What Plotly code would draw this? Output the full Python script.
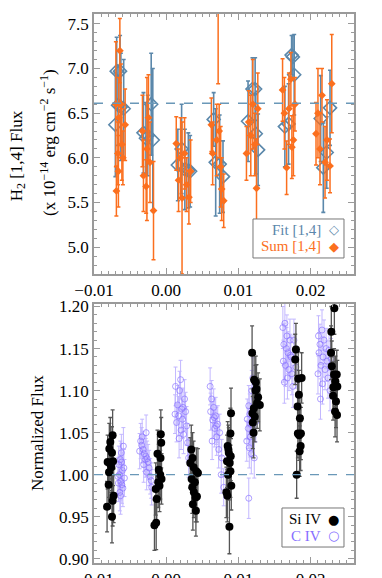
import plotly.graph_objects as go

# ---- top panel: H2 [1,4] flux (x 1e-14 erg cm^-2 s^-1) ----
fit_x = [-0.00704, -0.00686, -0.00639, -0.00667, -0.00589, -0.00628,
         -0.00315, -0.00256, -0.00208, -0.00186, -0.00281,
         0.00161, 0.00213, 0.00258, 0.00306, 0.00331,
         0.00657, 0.00685, 0.00740, 0.00786,
         0.01133, 0.01194, 0.01231, 0.01240, 0.01272,
         0.01643, 0.01694, 0.01736, 0.01754, 0.01772,
         0.02139, 0.02175, 0.02222, 0.02268]
fit_y = [6.37, 6.97, 6.97, 6.59, 6.55, 6.57,
         6.28, 6.25, 6.60, 6.20, 6.22,
         5.92, 6.10, 5.87, 5.86, 5.85,
         6.43, 5.95, 5.93, 5.79,
         6.41, 6.77, 6.77, 6.27, 6.09,
         6.35, 6.38, 7.15, 7.13, 6.93,
         6.44, 5.89, 6.06, 6.56]
fit_err = [0.58, 0.38, 0.40, 0.45, 0.55, 0.60,
           0.45, 0.45, 0.57, 0.80, 0.40,
           0.40, 0.50, 0.45, 0.42, 0.40,
           0.30, 0.60, 0.55, 0.40,
           0.45, 0.35, 0.35, 0.45, 0.40,
           0.45, 0.45, 0.22, 0.24, 0.45,
           0.48, 0.50, 0.40, 0.42]

sum_x = [-0.00690, -0.00669, -0.00656, -0.00642, -0.00628, -0.00614, -0.00600, -0.00569, -0.00662, -0.00697,
         -0.00315, -0.00278, -0.00329, -0.00246, -0.00225, -0.00176, -0.00267,
         0.00139, 0.00171, 0.00219, 0.00254, 0.00282, 0.00314, 0.00199, 0.00338,
         0.00625, 0.00643, 0.00719, 0.00699, 0.00754, 0.00796, 0.00768, 0.00733,
         0.01111, 0.01143, 0.01171, 0.01199, 0.01226, 0.01250, 0.01268,
         0.01611, 0.01636, 0.01667, 0.01699, 0.01726, 0.01740, 0.01761, 0.01782,
         0.02074, 0.02101, 0.02129, 0.02157, 0.02199, 0.02226, 0.02268, 0.02292]
sum_y = [5.63, 6.05, 6.45, 7.20, 6.60, 6.15, 6.00, 6.37, 5.85, 6.60,
         5.80, 5.68, 6.30, 6.45, 5.95, 5.41, 6.10,
         6.16, 5.75, 5.55, 6.05, 5.70, 5.56, 6.00, 5.85,
         6.37, 6.05, 7.75, 6.20, 5.90, 5.52, 5.65, 6.30,
         6.05, 6.40, 6.25, 6.60, 6.15, 5.66, 6.55,
         6.76, 6.50, 5.89, 6.55, 6.88, 6.12, 6.20, 6.60,
         6.27, 6.50, 6.10, 6.70, 5.95, 6.20, 5.91, 6.83]
sum_err = [0.28, 0.35, 0.45, 0.36, 0.45, 0.40, 0.30, 0.40, 0.40, 0.70,
           0.40, 0.30, 0.40, 0.48, 0.45, 0.55, 0.80,
           0.30, 0.35, 0.85, 0.40, 0.30, 0.30, 0.45, 0.35,
           0.30, 0.35, 0.92, 0.40, 0.45, 0.30, 0.35, 0.30,
           0.30, 0.35, 0.45, 0.50, 0.35, 0.55, 0.40,
           0.35, 0.40, 0.30, 0.40, 0.30, 0.35, 0.40, 0.30,
           0.35, 0.50, 0.40, 0.30, 0.40, 0.45, 0.30, 0.55]
h2_mean = 6.61

# ---- bottom panel: normalized flux ----
si_x = [-0.00819, -0.00797, -0.00811, -0.00788, -0.00774, -0.00742, -0.00751, -0.00778, -0.00760, -0.00736, -0.00728, -0.00742, -0.00751, -0.00792,
        -0.00163, -0.00139, -0.00131, -0.00103, -0.00121, -0.00079, -0.00075, -0.00069, -0.00093, -0.00065, -0.00083, -0.00111, -0.00145,
        0.00347, 0.00333, 0.00379, 0.00417, 0.00352, 0.00397, 0.00361, 0.00383, 0.00407, 0.00425, 0.00369, 0.00411, 0.00439, 0.00365,
        0.00897, 0.00861, 0.00842, 0.00879, 0.00893, 0.00866, 0.00889, 0.00856, 0.00901, 0.00833, 0.00846, 0.00875, 0.00851, 0.00889,
        0.01189, 0.01217, 0.01240, 0.01250, 0.01213, 0.01258, 0.01296, 0.01194, 0.01226, 0.01199, 0.01209, 0.01272, 0.01236,
        0.01796, 0.01786, 0.01828, 0.01875, 0.01837, 0.01819, 0.01851, 0.01823, 0.01865, 0.01841, 0.01861, 0.01847, 0.01806,
        0.02328, 0.02286, 0.02282, 0.02292, 0.02324, 0.02361, 0.02314, 0.02369, 0.02342, 0.02310, 0.02351, 0.02338, 0.02365]
si_y = [0.962, 0.988, 1.015, 1.031, 1.039, 1.047, 1.026, 1.013, 1.009, 1.016, 0.975, 0.969, 0.950, 1.003,
        0.940, 0.943, 0.971, 1.006, 1.025, 1.020, 1.048, 1.038, 0.987, 0.995, 1.000, 0.991, 0.983,
        1.030, 1.014, 1.009, 1.004, 0.995, 0.991, 0.985, 0.979, 0.973, 0.974, 0.965, 0.957, 1.002, 1.020,
        1.073, 1.030, 1.016, 1.014, 1.022, 1.026, 1.004, 1.000, 0.987, 0.979, 0.975, 0.938, 1.034, 1.049,
        1.145, 1.113, 1.110, 1.102, 1.079, 1.085, 1.083, 1.073, 1.069, 1.062, 1.050, 1.092, 1.100,
        1.149, 1.137, 1.114, 1.115, 1.095, 1.081, 1.067, 1.049, 1.049, 1.047, 1.034, 1.028, 1.000,
        1.198, 1.170, 1.145, 1.129, 1.119, 1.119, 1.104, 1.105, 1.111, 1.094, 1.087, 1.075, 1.071]
si_err = [0.030, 0.028, 0.032, 0.030, 0.029, 0.030, 0.031, 0.028, 0.030, 0.029, 0.032, 0.030, 0.031, 0.030,
          0.030, 0.032, 0.029, 0.030, 0.028, 0.031, 0.029, 0.030, 0.031, 0.030, 0.029, 0.030, 0.031,
          0.029, 0.030, 0.031, 0.028, 0.030, 0.029, 0.031, 0.030, 0.029, 0.030, 0.031, 0.030, 0.029, 0.030,
          0.030, 0.029, 0.031, 0.030, 0.029, 0.030, 0.031, 0.030, 0.029, 0.030, 0.031, 0.032, 0.029, 0.030,
          0.032, 0.030, 0.031, 0.029, 0.030, 0.030, 0.031, 0.029, 0.030, 0.031, 0.030, 0.029, 0.030,
          0.031, 0.030, 0.032, 0.030, 0.029, 0.031, 0.030, 0.029, 0.031, 0.030, 0.029, 0.030, 0.028,
          0.031, 0.030, 0.032, 0.030, 0.031, 0.029, 0.030, 0.031, 0.030, 0.029, 0.031, 0.030, 0.032]

civ_x = [-0.00593, -0.00621, -0.00635, -0.00656, -0.00607, -0.00649, -0.00579, -0.00628, -0.00614, -0.00600, -0.00642, -0.00632, -0.00586, -0.00669, -0.00619, -0.00662,
         -0.00278, -0.00333, -0.00354, -0.00340, -0.00319, -0.00305, -0.00284, -0.00264, -0.00250, -0.00312, -0.00236, -0.00271, -0.00222, -0.00208, -0.00201, -0.00368, -0.00291,
         0.00199, 0.00129, 0.00185, 0.00254, 0.00157, 0.00213, 0.00268, 0.00171, 0.00226, 0.00143, 0.00282, 0.00206, 0.00240, 0.00178, 0.00296, 0.00310, 0.00122, 0.00233,
         0.00608, 0.00629, 0.00657, 0.00615, 0.00685, 0.00643, 0.00713, 0.00671, 0.00740, 0.00699, 0.00636, 0.00726, 0.00768, 0.00761, 0.00796, 0.00664, 0.00692,
         0.01199, 0.01185, 0.01226, 0.01143, 0.01213, 0.01157, 0.01122, 0.01171, 0.01136, 0.01192, 0.01164, 0.01115, 0.01150, 0.01178, 0.01219, 0.01143, 0.01240,
         0.01643, 0.01615, 0.01671, 0.01713, 0.01629, 0.01664, 0.01685, 0.01726, 0.01622, 0.01650, 0.01699, 0.01740, 0.01678, 0.01636, 0.01754, 0.01768, 0.01796, 0.01720,
         0.02157, 0.02108, 0.02185, 0.02129, 0.02213, 0.02115, 0.02171, 0.02226, 0.02143, 0.02199, 0.02101, 0.02240, 0.02164, 0.02268, 0.02136, 0.02282, 0.02254]
civ_y = [1.034, 1.026, 1.018, 1.012, 1.005, 1.000, 0.996, 0.992, 0.988, 0.984, 0.979, 0.975, 1.008, 0.998, 1.015, 0.990,
         1.050, 1.045, 1.040, 1.035, 1.030, 1.025, 1.022, 1.019, 1.015, 1.012, 1.008, 1.003, 0.998, 0.993, 0.985, 1.028, 1.018,
         1.113, 1.105, 1.100, 1.090, 1.083, 1.078, 1.075, 1.070, 1.066, 1.062, 1.058, 1.053, 1.048, 1.043, 1.038, 1.020, 1.072, 1.080,
         1.105, 1.090, 1.080, 1.075, 1.070, 1.065, 1.060, 1.055, 1.050, 1.045, 1.040, 1.030, 1.020, 1.000, 0.985, 1.068, 1.058,
         1.115, 1.100, 1.090, 1.082, 1.077, 1.072, 1.066, 1.060, 1.055, 1.050, 1.045, 1.040, 1.032, 1.025, 1.020, 0.972, 1.063,
         1.180, 1.175, 1.165, 1.160, 1.155, 1.150, 1.145, 1.140, 1.135, 1.130, 1.125, 1.120, 1.115, 1.110, 1.105, 1.160, 1.128, 1.142,
         1.172, 1.165, 1.160, 1.155, 1.150, 1.145, 1.140, 1.135, 1.130, 1.125, 1.120, 1.115, 1.108, 1.100, 1.090, 1.138, 1.148]
civ_err = [0.022] * 16 + [0.021] * 17 + [0.023] * 18 + [0.022] * 17 + [0.024] * 17 + [0.025] * 18 + [0.024] * 17
norm_level = 1.00

x_ticks = [-0.01, 0.00, 0.01, 0.02]
x_ticktext = ['\u22120.01', '0.00', '0.01', '0.02']

BLUE = '#5b88ab'
ORANGE = '#fb6f1e'
VIOLET = '#866fff'
FRAME = '#9a9a9a'
FONT = 'Liberation Serif, Times New Roman, serif'

fig = go.Figure()

fig.add_trace(go.Scatter(
    x=fit_x, y=fit_y, mode='markers', name='Fit [1,4]',
    marker=dict(symbol='diamond-open', size=10, color=BLUE, line=dict(width=1.6, color=BLUE)),
    error_y=dict(type='data', array=fit_err, color=BLUE, thickness=1.6, width=2),
    xaxis='x', yaxis='y'))
fig.add_trace(go.Scatter(
    x=sum_x, y=sum_y, mode='markers', name='Sum [1,4]',
    marker=dict(symbol='diamond', size=6, color=ORANGE),
    error_y=dict(type='data', array=sum_err, color=ORANGE, thickness=1.5, width=2),
    xaxis='x', yaxis='y'))

fig.add_trace(go.Scatter(
    x=civ_x, y=civ_y, mode='markers', name='C IV',
    marker=dict(symbol='circle-open', size=6, color=VIOLET, opacity=0.65, line=dict(width=1)),
    error_y=dict(type='data', array=civ_err, color='#c2b7ff', thickness=1, width=2),
    xaxis='x2', yaxis='y2'))
fig.add_trace(go.Scatter(
    x=si_x, y=si_y, mode='markers', name='Si IV',
    marker=dict(symbol='circle', size=8, color='black'),
    error_y=dict(type='data', array=si_err, color='#555555', thickness=1.3, width=2),
    xaxis='x2', yaxis='y2'))

axis_common = dict(showline=True, linecolor=FRAME, linewidth=1.5, mirror='allticks',
                   ticks='inside', ticklen=6, tickcolor=FRAME, showgrid=False, zeroline=False,
                   automargin=False,
                   tickfont=dict(family=FONT, size=17, color='black'))

# the page body adds an 8px offset, so the figure is sized/shifted to compensate
fig.update_layout(
    template='none',
    width=374, height=570,
    margin=dict(l=86, r=28, t=6, b=15, autoexpand=False),
    paper_bgcolor='white', plot_bgcolor='white',
    showlegend=False,
    font=dict(family=FONT, size=17, color='black'),
    xaxis=dict(axis_common, domain=[0, 1], anchor='y', range=[-0.01, 0.026],
               tickvals=x_ticks, ticktext=x_ticktext,
               minor=dict(dtick=0.001, ticklen=3, ticks='inside', tickcolor=FRAME)),
    yaxis=dict(axis_common, domain=[0.5264, 1.0], anchor='x', range=[4.70, 7.61],
               dtick=0.5, tickformat='.1f',
               minor=dict(dtick=0.1, ticklen=3, ticks='inside', tickcolor=FRAME)),
    xaxis2=dict(axis_common, domain=[0, 1], anchor='y2', range=[-0.01, 0.026],
                tickvals=x_ticks, ticktext=x_ticktext,
                minor=dict(dtick=0.001, ticklen=3, ticks='inside', tickcolor=FRAME)),
    yaxis2=dict(axis_common, domain=[0, 0.4718], anchor='x2', range=[0.895, 1.203],
                dtick=0.05, tickformat='.2f',
                minor=dict(dtick=0.01, ticklen=3, ticks='inside', tickcolor=FRAME)),
)

# reference levels
fig.add_shape(type='line', xref='x domain', yref='y', x0=0, x1=1, y0=h2_mean, y1=h2_mean,
              line=dict(color='#6a98b8', width=1.5, dash='dash'))
fig.add_shape(type='line', xref='x2 domain', yref='y2', x0=0, x1=1, y0=norm_level, y1=norm_level,
              line=dict(color='#6a98b8', width=1.2, dash='dash'))

# axis titles
title_kw = dict(xref='paper', yref='paper', textangle=-90, showarrow=False,
                xanchor='center', yanchor='middle')
fig.add_annotation(x=-0.292, y=0.741, text='H<sub>2</sub> [1,4] Flux',
                   font=dict(family=FONT, size=17), **title_kw)
fig.add_annotation(x=-0.177, y=0.767,
                   text='(x 10<sup>\u221214</sup> erg cm<sup>\u22122</sup> s<sup>\u22121</sup>)',
                   font=dict(family=FONT, size=17), **title_kw)
fig.add_annotation(x=-0.215, y=0.237, text='Normalized Flux',
                   font=dict(family=FONT, size=17), **title_kw)

# legend boxes
fig.add_shape(type='rect', xref='paper', yref='paper', x0=0.6115, x1=0.9615, y0=0.5556, y1=0.6266,
              line=dict(color='#777777', width=1), fillcolor='white')
fig.add_shape(type='rect', xref='paper', yref='paper', x0=0.723, x1=0.9615, y0=0.0291, y1=0.1002,
              line=dict(color='#777777', width=1), fillcolor='white')

legend_items = [
    ('Fit [1,4]', '\u25c7', BLUE, 0.6066),
    ('Sum [1,4]', '\u25c6', ORANGE, 0.5774),
    ('Si IV', '\u25cf', 'black', 0.0801),
    ('C IV', '\u25cb', VIOLET, 0.0492),
]
for label, sym, col, yy in legend_items:
    fig.add_annotation(xref='paper', yref='paper', x=0.880, y=yy, xanchor='right', yanchor='middle',
                       showarrow=False, text=label, font=dict(family=FONT, size=15, color=col))
    fig.add_annotation(xref='paper', yref='paper', x=0.922, y=yy, xanchor='center', yanchor='middle',
                       showarrow=False, text=sym, font=dict(family='DejaVu Sans', size=13, color=col))

fig.write_html("out.html")
